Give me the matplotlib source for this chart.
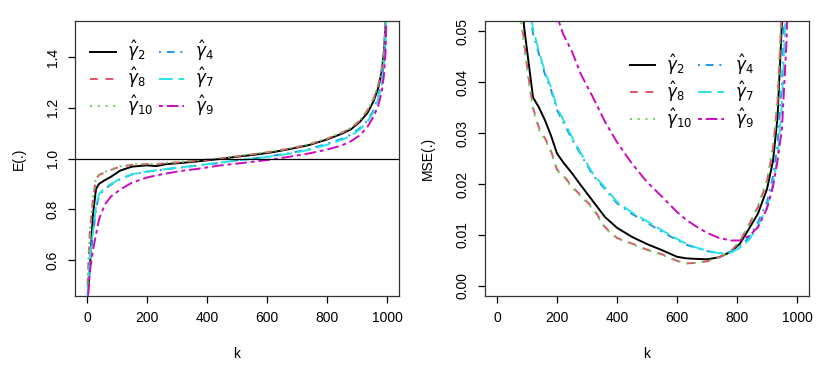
import matplotlib
matplotlib.use('Agg')
import matplotlib.pyplot as plt

plt.rcParams['font.family'] = ['Liberation Sans', 'DejaVu Sans']
plt.rcParams['mathtext.fontset'] = 'dejavusans'

# series labels / styles (R palette, lty 1..6)
labels = [r'$\hat{\gamma}_2$', r'$\hat{\gamma}_8$', r'$\hat{\gamma}_{10}$',
          r'$\hat{\gamma}_4$', r'$\hat{\gamma}_7$', r'$\hat{\gamma}_9$']
colors = ['black', '#DF536B', '#61D04F', '#2297E6', '#28E2E5', '#CD0BBC']
styles = ['-', (0, (4, 4)), (0, (1, 3)), (0, (1, 3, 4, 3)), (0, (7, 3)), (0, (2, 2, 6, 2))]

# left panel: E(.) vs k
k_E = [2, 5, 10, 20, 30, 40, 60, 80, 110, 150, 200, 230, 265, 320, 380, 440, 500,
       560, 620, 680, 740, 800, 850, 880, 910, 935, 955, 970, 982, 990, 995, 998]
E_g2 = [0.45, 0.50, 0.58, 0.78, 0.88, 0.90, 0.915, 0.928, 0.952, 0.968, 0.973, 0.970,
        0.978, 0.983, 0.990, 0.998, 1.007, 1.015, 1.025, 1.038, 1.053, 1.075, 1.098,
        1.115, 1.145, 1.180, 1.225, 1.275, 1.34, 1.42, 1.52, 1.60]
E_g8 = [0.50, 0.60, 0.72, 0.84, 0.92, 0.935, 0.945, 0.955, 0.968, 0.975, 0.978, 0.977,
        0.982, 0.986, 0.993, 1.000, 1.009, 1.018, 1.028, 1.040, 1.056, 1.078, 1.102,
        1.120, 1.150, 1.190, 1.235, 1.285, 1.35, 1.43, 1.53, 1.60]
E_g10 = [0.51, 0.61, 0.73, 0.85, 0.925, 0.937, 0.947, 0.957, 0.969, 0.976, 0.979, 0.978,
         0.983, 0.987, 0.994, 1.001, 1.010, 1.019, 1.029, 1.041, 1.057, 1.079, 1.103,
         1.121, 1.151, 1.191, 1.236, 1.286, 1.35, 1.43, 1.53, 1.60]
E_g4 = [0.45, 0.52, 0.60, 0.70, 0.80, 0.855, 0.88, 0.897, 0.918, 0.937, 0.948, 0.952,
        0.958, 0.965, 0.974, 0.982, 0.993, 1.001, 1.011, 1.022, 1.037, 1.058, 1.078,
        1.094, 1.120, 1.150, 1.190, 1.240, 1.30, 1.38, 1.47, 1.58]
E_g7 = [0.45, 0.53, 0.61, 0.71, 0.81, 0.86, 0.885, 0.900, 0.920, 0.938, 0.949, 0.953,
        0.959, 0.966, 0.975, 0.983, 0.992, 1.000, 1.009, 1.020, 1.034, 1.054, 1.074,
        1.090, 1.115, 1.145, 1.183, 1.232, 1.29, 1.37, 1.46, 1.57]
E_g9 = [0.43, 0.48, 0.56, 0.64, 0.70, 0.76, 0.82, 0.85, 0.877, 0.905, 0.925, 0.933,
        0.941, 0.952, 0.961, 0.972, 0.980, 0.988, 0.997, 1.008, 1.020, 1.035, 1.052,
        1.068, 1.092, 1.125, 1.165, 1.205, 1.26, 1.33, 1.42, 1.55]

# right panel: MSE(.) vs k
k_M = [60, 80, 90, 105, 120, 140, 160, 180, 200, 220, 250, 280, 320, 360, 400, 450,
       500, 550, 600, 630, 660, 700, 740, 780, 810, 840, 870, 900, 920, 935, 950, 965, 980]
M_g2 = [0.08, 0.06, 0.051, 0.044, 0.037, 0.035, 0.0325, 0.0295, 0.026, 0.0243, 0.0221,
        0.0197, 0.0166, 0.0135, 0.0114, 0.0096, 0.0082, 0.0070, 0.0057, 0.0054, 0.0053,
        0.0052, 0.0056, 0.0067, 0.0083, 0.0112, 0.0142, 0.019, 0.0245, 0.033, 0.052,
        0.08, 0.12]
M_g8 = [0.075, 0.053, 0.048, 0.041, 0.035, 0.031, 0.029, 0.0265, 0.0228, 0.0218, 0.0195,
        0.0177, 0.0153, 0.0115, 0.0094, 0.0083, 0.0071, 0.0062, 0.0049, 0.0044, 0.0045,
        0.0048, 0.0056, 0.0068, 0.0088, 0.012, 0.0155, 0.0205, 0.027, 0.036, 0.055,
        0.085, 0.13]
M_g10 = [0.074, 0.052, 0.047, 0.0405, 0.0345, 0.0305, 0.0287, 0.0262, 0.0226, 0.0216,
         0.0193, 0.0175, 0.0151, 0.0113, 0.0093, 0.0082, 0.0070, 0.0061, 0.0049, 0.0044,
         0.0045, 0.0048, 0.0056, 0.0068, 0.0088, 0.0121, 0.0157, 0.0208, 0.0275, 0.037,
         0.056, 0.086, 0.13]
M_g4 = [0.09, 0.07, 0.063, 0.055, 0.0495, 0.0455, 0.0415, 0.0385, 0.0345, 0.0322, 0.0288,
        0.0257, 0.0217, 0.019, 0.0162, 0.0141, 0.0124, 0.0106, 0.009, 0.0081, 0.0075,
        0.0068, 0.0064, 0.0066, 0.0078, 0.0095, 0.0125, 0.0165, 0.0215, 0.0275, 0.040,
        0.065, 0.10]
M_g7 = [0.092, 0.072, 0.064, 0.056, 0.0505, 0.046, 0.042, 0.039, 0.035, 0.0327, 0.0292,
        0.026, 0.022, 0.0193, 0.0165, 0.0144, 0.0127, 0.0109, 0.0092, 0.0083, 0.0076,
        0.0069, 0.0064, 0.0065, 0.0075, 0.0090, 0.0118, 0.0155, 0.020, 0.025, 0.036,
        0.058, 0.09]
k_M9 = [180, 200, 220, 250, 280, 320, 360, 400, 450, 500, 550, 600, 630, 660, 700, 740,
        780, 810, 840, 870, 900, 920, 935, 950, 965, 980]
M_g9 = [0.06, 0.053, 0.0495, 0.046, 0.0415, 0.037, 0.0322, 0.0282, 0.024, 0.0204, 0.0175,
        0.0145, 0.013, 0.0118, 0.0104, 0.0094, 0.0089, 0.0089, 0.0098, 0.0115, 0.0152,
        0.0195, 0.0245, 0.031, 0.048, 0.08]

fig = plt.figure(figsize=(8.3, 3.7), dpi=100)
ax1 = fig.add_axes([75 / 830, 74 / 370, 324 / 830, 275 / 370])
ax2 = fig.add_axes([485 / 830, 74 / 370, 324 / 830, 275 / 370])

E_series = [E_g2, E_g8, E_g10, E_g4, E_g7, E_g9]
for y, c, ls, lab in zip(E_series, colors, styles, labels):
    ax1.plot(k_E, y, color=c, linestyle=ls, lw=1.4, label=lab)
ax1.axhline(1.0, color='black', lw=0.9)

M_series = [M_g2, M_g8, M_g10, M_g4, M_g7]
for y, c, ls, lab in zip(M_series, colors[:5], styles[:5], labels[:5]):
    ax2.plot(k_M, y, color=c, linestyle=ls, lw=1.4, label=lab)
ax2.plot(k_M9, M_g9, color=colors[5], linestyle=styles[5], lw=1.4, label=labels[5])

ax1.set_xlim(-40, 1040)
ax1.set_ylim(0.458, 1.542)
ax1.set_yticks([0.6, 0.8, 1.0, 1.2, 1.4])
ax1.set_yticklabels(['0.6', '0.8', '1.0', '1.2', '1.4'])
ax1.set_ylabel('E(.)', fontsize=10, labelpad=14)

ax2.set_xlim(-40, 1040)
ax2.set_ylim(-0.002, 0.052)
ax2.set_yticks([0.0, 0.01, 0.02, 0.03, 0.04, 0.05])
ax2.set_yticklabels(['0.00', '0.01', '0.02', '0.03', '0.04', '0.05'])
ax2.set_ylabel('MSE(.)', fontsize=10, labelpad=15)

for ax in (ax1, ax2):
    ax.set_xticks([0, 200, 400, 600, 800, 1000])
    ax.set_xlabel('k', fontsize=10, labelpad=16)
    ax.tick_params(direction='out', length=5, width=0.9, labelsize=10, pad=6)
    for lab in ax.get_yticklabels():
        lab.set_rotation(90)
        lab.set_va('center')
    for s in ax.spines.values():
        s.set_linewidth(0.9)
        s.set_color('#333333')

leg_kw = dict(ncol=2, frameon=False, fontsize=12, handlelength=1.55,
              handletextpad=0.65, columnspacing=0.35, labelspacing=0.15)
ax1.legend(loc='upper left', bbox_to_anchor=(0.0, 0.99), **leg_kw)
ax2.legend(loc='upper left', bbox_to_anchor=(0.40, 0.94), **leg_kw)

fig.savefig('out.png', dpi=100)
